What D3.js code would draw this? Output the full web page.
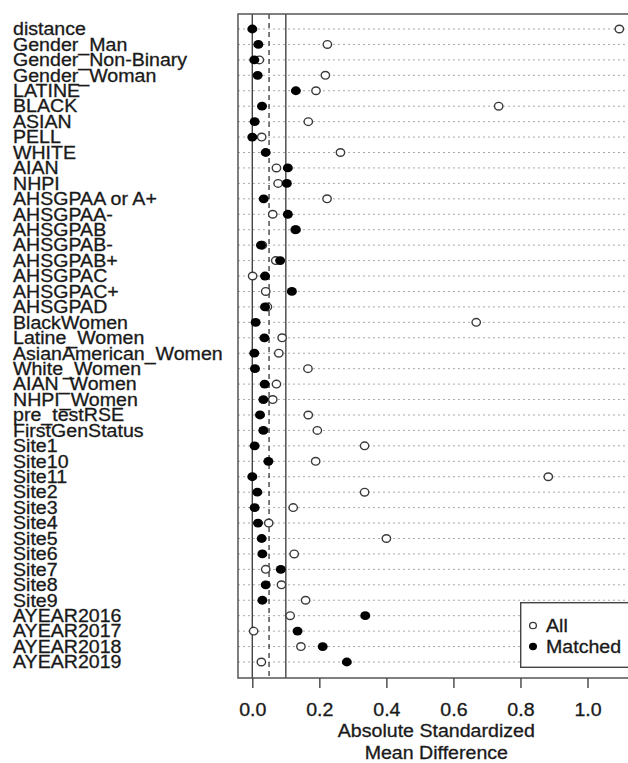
<!DOCTYPE html>
<html>
<head>
<meta charset="utf-8">
<script src="https://cdn.jsdelivr.net/npm/d3@7"></script>
<style>
  body { margin: 0; background: #fff; }
  text { font-family: "Liberation Sans", Arial, Helvetica, sans-serif; fill: #1a1a1a; stroke: #1a1a1a; stroke-width: 0.3px; }
</style>
</head>
<body>
<div id="canvas"></div>
<script>
"use strict"

/* covariate names, top to bottom */
let covariates = ["distance", "Gender_Man", "Gender_Non-Binary", "Gender_Woman", "LATINE",
  "BLACK", "ASIAN", "PELL", "WHITE", "AIAN", "NHPI", "AHSGPAA or A+", "AHSGPAA-",
  "AHSGPAB", "AHSGPAB-", "AHSGPAB+", "AHSGPAC", "AHSGPAC+", "AHSGPAD", "BlackWomen",
  "Latine_Women", "AsianAmerican_Women", "White_Women", "AIAN_Women", "NHPI_Women",
  "pre_testRSE", "FirstGenStatus", "Site1", "Site10", "Site11", "Site2", "Site3", "Site4",
  "Site5", "Site6", "Site7", "Site8", "Site9", "AYEAR2016", "AYEAR2017", "AYEAR2018",
  "AYEAR2019"];

/* absolute standardized mean difference, all units (open circles) */
let allValues = [1.095, 0.224, 0.021, 0.218, 0.190, 0.735, 0.167, 0.028, 0.263, 0.072,
  0.077, 0.223, 0.061, 0.128, 0.030, 0.070, 0.001, 0.040, 0.045, 0.668,
  0.089, 0.079, 0.166, 0.072, 0.061, 0.167, 0.194, 0.335, 0.189, 0.883,
  0.335, 0.122, 0.049, 0.400, 0.125, 0.040, 0.087, 0.159, 0.113, 0.004,
  0.145, 0.027];

/* matched units (filled circles) */
let matchedValues = [0.000, 0.018, 0.006, 0.016, 0.130, 0.029, 0.007, 0.000, 0.040, 0.106,
  0.103, 0.034, 0.106, 0.130, 0.026, 0.083, 0.038, 0.118, 0.038, 0.010,
  0.036, 0.006, 0.008, 0.037, 0.033, 0.023, 0.033, 0.007, 0.048, 0.000,
  0.015, 0.007, 0.017, 0.028, 0.030, 0.085, 0.040, 0.030, 0.337, 0.135,
  0.210, 0.282];

let xTicks = [0, 0.2, 0.4, 0.6, 0.8, 1.0];
let refLines = [0, 0.05, 0.1];
let legendLabels = ["All", "Matched"];

/* the picture is a bit wider than tall, so text gets stretched sideways */
let stretch = 1.12;

let drawing = d3.select("#canvas")
  .append("svg")
  .attr("width", 628)
  .attr("height", 763);

let x = d3.scaleLinear().domain([0, 1]).range([252.3, 587.5]);
let y = d3.scalePoint().domain(covariates).range([29, 662]);

let boxLeft = x(-0.0427);
let boxRight = 629;
let boxTop = 14;
let boxBottom = 678;

/* helper for stretched text */
function label(parent, str, tx, ty, anchor, size) {
  return parent.append("text")
    .attr("transform", "translate(" + tx + "," + ty + ") scale(" + stretch + ",1)")
    .attr("text-anchor", anchor)
    .style("font-size", size + "px")
    .text(str);
}

/* ---------- dotted row guides ---------- */
drawing.append("g")
  .selectAll("line")
  .data(covariates)
  .join("line")
  .attr("x1", boxLeft).attr("x2", boxRight)
  .attr("y1", d => y(d)).attr("y2", d => y(d))
  .attr("stroke", "#a8a8a8")
  .attr("stroke-width", 1)
  .attr("stroke-dasharray", "2,3");

/* ---------- reference lines at 0, .05, .1 ---------- */
drawing.append("g")
  .selectAll("line")
  .data(refLines)
  .join("line")
  .attr("x1", d => x(d)).attr("x2", d => x(d))
  .attr("y1", boxTop).attr("y2", boxBottom)
  .attr("stroke", "#444")
  .attr("stroke-width", 1.4)
  .attr("stroke-dasharray", d => d === 0.05 ? "5,4" : null);

/* ---------- points: all first, matched on top ---------- */
drawing.append("g")
  .selectAll("ellipse")
  .data(allValues)
  .join("ellipse")
  .attr("cx", d => x(d))
  .attr("cy", (d, i) => y(covariates[i]))
  .attr("rx", 4.2).attr("ry", 3.8)
  .attr("fill", "#fff")
  .attr("stroke", "#3a3a3a")
  .attr("stroke-width", 1.4);

drawing.append("g")
  .selectAll("ellipse")
  .data(matchedValues)
  .join("ellipse")
  .attr("cx", d => x(d))
  .attr("cy", (d, i) => y(covariates[i]))
  .attr("rx", 5).attr("ry", 4.4)
  .attr("fill", "#000");

/* ---------- plot box ---------- */
drawing.append("rect")
  .attr("x", boxLeft).attr("y", boxTop)
  .attr("width", boxRight - boxLeft).attr("height", boxBottom - boxTop)
  .attr("fill", "none")
  .attr("stroke", "#555")
  .attr("stroke-width", 1.5);

/* ---------- x axis ---------- */
let xAxis = drawing.append("g")
  .attr("transform", "translate(0," + boxBottom + ")")
  .call(d3.axisBottom(x).tickValues(xTicks).tickSize(10).tickFormat(d3.format(".1f")));
xAxis.select(".domain").remove();
xAxis.selectAll(".tick line").attr("stroke", "#444").attr("stroke-width", 1.4);
xAxis.selectAll(".tick text").remove();
xAxis.selectAll(".tick").each(function (d) {
  label(d3.select(this), d3.format(".1f")(d), 0, 38, "middle", 17.5);
});

label(drawing, "Absolute Standardized", 436.3, 737.3, "middle", 17.5);
label(drawing, "Mean Difference", 436.3, 759.3, "middle", 17.5);

/* ---------- covariate labels ---------- */
let labels = drawing.append("g");
covariates.forEach(c => label(labels, c, 13, y(c) + 6.3, "start", 17.5));

/* ---------- legend ---------- */
let legend = drawing.append("g");
legend.append("rect")
  .attr("x", 520.7).attr("y", 602.7)
  .attr("width", 110).attr("height", 64.6)
  .attr("fill", "#fff")
  .attr("stroke", "#444")
  .attr("stroke-width", 1.4);

let legendY = d3.scalePoint().domain(legendLabels).range([625.5, 646.5]);
legendLabels.forEach(name => {
  legend.append("ellipse")
    .attr("cx", 533).attr("cy", legendY(name))
    .attr("rx", name === "All" ? 3.4 : 4).attr("ry", name === "All" ? 3.2 : 3.7)
    .attr("fill", name === "All" ? "#fff" : "#000")
    .attr("stroke", name === "All" ? "#3a3a3a" : "none")
    .attr("stroke-width", 1.3);
  label(legend, name, 546, legendY(name) + 6.1, "start", 17.5);
});
</script>
</body>
</html>
